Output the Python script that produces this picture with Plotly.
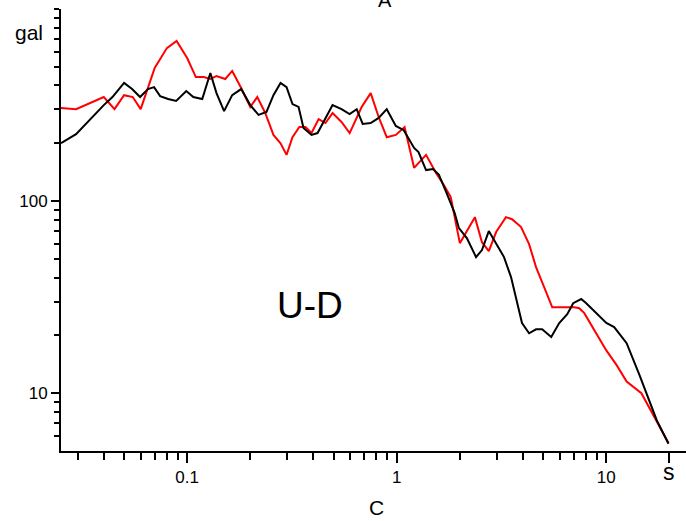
import math
import plotly.graph_objects as go

# Period (s) and amplitude (gal)
red_period = [0.025, 0.0295, 0.040, 0.045, 0.050, 0.055, 0.060, 0.070, 0.080, 0.089,
              0.10, 0.11, 0.12, 0.129, 0.138, 0.152, 0.164, 0.181, 0.200, 0.216,
              0.236, 0.258, 0.279, 0.298, 0.318, 0.343, 0.367, 0.392, 0.424, 0.457,
              0.494, 0.545, 0.596, 0.680, 0.751, 0.820, 0.896, 0.99, 1.09, 1.21,
              1.38, 1.54, 1.68, 1.81, 2.00, 2.36, 2.55, 2.75, 2.98, 3.32,
              3.55, 3.92, 4.28, 4.62, 5.05, 5.52, 7.03, 7.43, 7.85, 8.76,
              10.0, 11.2, 12.5, 14.7, 17.4, 19.8]
red_amp = [305, 301, 348, 301, 356, 348, 301, 493, 626, 681,
           556, 442, 442, 432, 448, 432, 476, 388, 309, 348,
           287, 221, 200, 174, 215, 243, 243, 226, 267, 255,
           287, 258, 226, 309, 365, 274, 215, 221, 243, 149,
           174, 140, 121, 105, 60.4, 82.5, 61.1, 54.9, 69.0, 82.5,
           80.5, 73.2, 59.7, 45.3, 35.7, 28.0, 28.0, 27.7, 26.1, 21.3,
           16.7, 14.0, 11.5, 10.0, 7.06, 5.5]

black_period = [0.025, 0.0295, 0.040, 0.044, 0.050, 0.0546, 0.0596, 0.065, 0.0695, 0.0743,
                0.0811, 0.0886, 0.099, 0.107, 0.118, 0.129, 0.138, 0.150, 0.164, 0.181,
                0.200, 0.219, 0.239, 0.258, 0.279, 0.298, 0.318, 0.340, 0.359, 0.392,
                0.419, 0.457, 0.494, 0.545, 0.596, 0.644, 0.688, 0.751, 0.820, 0.896,
                0.99, 1.08, 1.21, 1.27, 1.38, 1.49, 1.59, 1.73, 1.89, 1.98,
                2.16, 2.39, 2.55, 2.75, 2.98, 3.25, 3.51, 3.71, 3.96, 4.28,
                4.62, 4.94, 5.46, 5.96, 6.51, 6.95, 7.59, 8.02, 8.96, 10.0,
                10.9, 12.5, 14.4, 17.4, 19.8]
black_amp = [200, 223, 316, 348, 412, 383, 348, 383, 392, 352,
             340, 332, 374, 348, 340, 464, 365, 294, 356, 383,
             316, 281, 291, 356, 412, 392, 320, 309, 240, 221,
             226, 271, 316, 301, 284, 301, 252, 255, 271, 301,
             246, 234, 189, 180, 145, 147, 137, 110, 86.6, 72.3,
             64.2, 51.1, 55.6, 69.8, 60.4, 51.1, 40.2, 31.6, 23.2, 20.5,
             21.5, 21.5, 19.6, 23.2, 25.8, 29.4, 30.9, 29.4, 26.1, 23.2,
             22.1, 18.2, 12.4, 7.23, 5.45]

x_tickvals = [0.1, 1, 10, 20]
x_ticktext = ["0.1", "1", "10", ""]
x_unit_pos = 20
x_minor = [0.03, 0.04, 0.05, 0.06, 0.07, 0.08, 0.09,
           0.2, 0.3, 0.4, 0.5, 0.6, 0.7, 0.8, 0.9,
           2, 3, 4, 5, 6, 7, 8, 9]
y_tickvals = [10, 100]
y_ticktext = ["10", "100"]
y_minor = [6, 7, 8, 9, 20, 30, 40, 50, 60, 70, 80, 90,
           200, 300, 400, 500, 600, 700, 800, 900, 1000]

FONT = "Liberation Sans, Arial, sans-serif"

fig = go.Figure()
fig.add_trace(go.Scatter(x=red_period, y=red_amp, mode="lines",
                         line=dict(color="#ff0000", width=2), showlegend=False))
fig.add_trace(go.Scatter(x=black_period, y=black_amp, mode="lines",
                         line=dict(color="#000000", width=2), showlegend=False))

fig.update_layout(
    width=686, height=521,
    margin=dict(l=61, r=0, t=9, b=70),
    paper_bgcolor="white", plot_bgcolor="white",
    font=dict(family=FONT, color="black", size=17),
    xaxis=dict(type="log", range=[math.log10(0.025), math.log10(24)],
               showline=True, linecolor="black", linewidth=2, showgrid=False,
               zeroline=False, ticks="outside", ticklen=10, tickwidth=2,
               tickcolor="black", tickvals=x_tickvals, ticktext=x_ticktext,
               tickfont=dict(size=17),
               minor=dict(tickvals=x_minor, ticks="outside", ticklen=7,
                          tickwidth=2, tickcolor="black", showgrid=False)),
    yaxis=dict(type="log", range=[math.log10(5), 3],
               showline=True, linecolor="black", linewidth=2, showgrid=False,
               zeroline=False, ticks="outside", ticklen=8, tickwidth=2,
               tickcolor="black", tickvals=y_tickvals, ticktext=y_ticktext,
               tickfont=dict(size=17),
               minor=dict(tickvals=y_minor, ticks="outside", ticklen=5,
                          tickwidth=2, tickcolor="black", showgrid=False)),
    annotations=[
        dict(text="gal", xref="paper", yref="paper", x=-0.052, y=0.946,
             showarrow=False, font=dict(size=21), xanchor="center", yanchor="middle"),
        dict(text="s", xref="x", yref="paper", x=math.log10(x_unit_pos), y=-0.048,
             showarrow=False, font=dict(size=23), xanchor="center", yanchor="middle"),
        dict(text="C", xref="paper", yref="paper", x=0.504, y=-0.127,
             showarrow=False, font=dict(size=21), xanchor="center", yanchor="middle"),
        dict(text="U-D", xref="paper", yref="paper", x=0.398, y=0.330,
             showarrow=False, font=dict(size=37), xanchor="center", yanchor="middle"),
        dict(text="A", xref="paper", yref="paper", x=0.518, y=1.021,
             showarrow=False, font=dict(size=20), xanchor="center", yanchor="middle"),
    ],
)

fig.write_html("out.html")
